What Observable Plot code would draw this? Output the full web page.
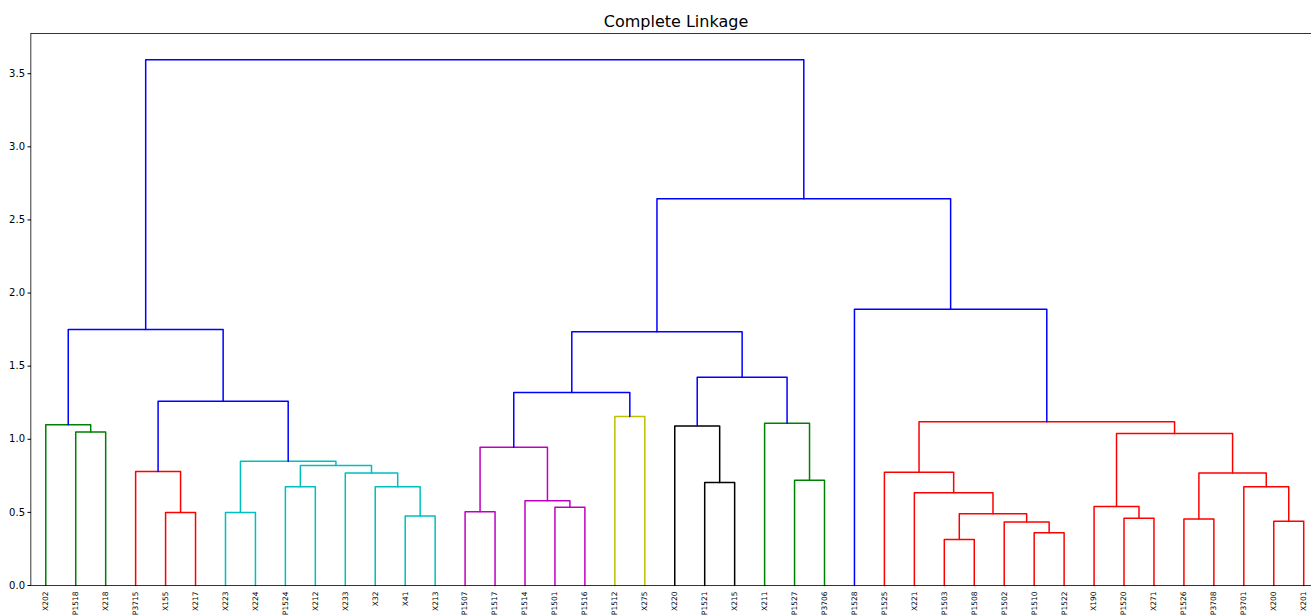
<!DOCTYPE html>
<html>
<head>
<meta charset="utf-8">
<script src="https://cdn.jsdelivr.net/npm/d3@7"></script>
<script src="https://cdn.jsdelivr.net/npm/@observablehq/plot@0.6"></script>
<style>
  html, body { margin: 0; padding: 0; background: #fff; }
  #wrap { position: relative; width: 1311px; height: 616px; overflow: hidden; font-family: "DejaVu Sans", sans-serif; }
  #title { position: absolute; left: 31px; width: 1290px; top: 12px; text-align: center; font-size: 16px; line-height: 20px; color: #000; }
</style>
</head>
<body>
<div id="wrap"><div id="title">Complete Linkage</div></div>
<script>
// Leaf labels, left to right
const leaves = ["X202","P1518","X218","P3715","X155","X217","X223","X224","P1524","X212",
  "X233","X32","X41","X213","P1507","P1517","P1514","P1501","P1516","P1512","X275",
  "X220","P1521","X215","X211","P1527","P3706","P1528","P1525","X221","P1503","P1508",
  "P1502","P1510","P1522","X190","P1520","X271","P1526","P3708","P3701","X200","X201"];

// Cluster colours (scipy / matplotlib cycle)
const palette = {g: "#008000", r: "#ff0000", c: "#00bfbf", m: "#bf00bf", y: "#bfbf00", k: "#000000", b: "#0000ff"};

// Merges: [id, left, right, height, colour]
const links = [
  ["g1","P1518","X218",1.05,"g"],
  ["g2","X202","g1",1.10,"g"],
  ["r1","X155","X217",0.50,"r"],
  ["r2","P3715","r1",0.78,"r"],
  ["c1","X223","X224",0.50,"c"],
  ["c2","P1524","X212",0.675,"c"],
  ["c3","X41","X213",0.475,"c"],
  ["c4","X32","c3",0.675,"c"],
  ["c5","X233","c4",0.77,"c"],
  ["c6","c2","c5",0.82,"c"],
  ["c7","c1","c6",0.85,"c"],
  ["b1","r2","c7",1.26,"b"],
  ["b2","g2","b1",1.75,"b"],
  ["m1","P1507","P1517",0.505,"m"],
  ["m2","P1501","P1516",0.535,"m"],
  ["m3","P1514","m2",0.58,"m"],
  ["m4","m1","m3",0.945,"m"],
  ["y1","P1512","X275",1.155,"y"],
  ["b3","m4","y1",1.32,"b"],
  ["k1","P1521","X215",0.705,"k"],
  ["k2","X220","k1",1.09,"k"],
  ["g3","P1527","P3706",0.72,"g"],
  ["g4","X211","g3",1.11,"g"],
  ["b4","k2","g4",1.425,"b"],
  ["b5","b3","b4",1.735,"b"],
  ["R1","P1503","P1508",0.315,"r"],
  ["R2","P1510","P1522",0.36,"r"],
  ["R3","P1502","R2",0.435,"r"],
  ["R4","R1","R3",0.49,"r"],
  ["R5","X221","R4",0.635,"r"],
  ["R6","P1525","R5",0.775,"r"],
  ["R7","P1520","X271",0.46,"r"],
  ["R8","X190","R7",0.54,"r"],
  ["R9","P1526","P3708",0.455,"r"],
  ["R10","X200","X201",0.44,"r"],
  ["R11","P3701","R10",0.675,"r"],
  ["R12","R9","R11",0.77,"r"],
  ["R13","R8","R12",1.04,"r"],
  ["R14","R6","R13",1.12,"r"],
  ["b6","P1528","R14",1.89,"b"],
  ["b7","b5","b6",2.645,"b"],
  ["b8","b2","b7",3.595,"b"]
];

const yTicks = [0, 0.5, 1.0, 1.5, 2.0, 2.5, 3.0, 3.5];
const yMax = 3.775;

// Build dendrogram U-shapes (scipy layout: leaves at 5, 15, 25, ...)
const leafPos = leaves.map((n, i) => 5 + 10 * i);
const pos = new Map(leaves.map((n, i) => [n, {x: leafPos[i], h: 0}]));
const segs = [];
for (const [id, a, b, h, c] of links) {
  const A = pos.get(a), B = pos.get(b);
  const col = palette[c];
  segs.push({id, x: A.x, y: A.h, c: col}, {id, x: A.x, y: h, c: col},
            {id, x: B.x, y: h, c: col}, {id, x: B.x, y: B.h, c: col});
  pos.set(id, {x: (A.x + B.x) / 2, h});
}

const chart = Plot.plot({
  width: 1311,
  height: 616,
  marginTop: 33,
  marginBottom: 31,
  marginLeft: 31,
  marginRight: 0,
  style: {fontFamily: "DejaVu Sans, sans-serif", background: "transparent", overflow: "hidden"},
  x: {domain: [0, 430], range: [30.3, 1318.2]},
  y: {domain: [0, yMax], range: [585, 33]},
  color: {type: "identity"},
  marks: [
    Plot.line(segs, {x: "x", y: "y", z: "id", stroke: "c", strokeWidth: 1.5, curve: "linear"}),
    Plot.ruleX([0], {stroke: "#000", strokeWidth: 0.8}),
    Plot.ruleY([0, yMax], {stroke: "#000", strokeWidth: 0.8}),
    Plot.axisY({ticks: yTicks, tickFormat: d3.format(".1f"), tickSize: 3.5, tickPadding: 3, fontSize: 10, label: null, stroke: "#000"}),
    Plot.axisX({ticks: leafPos, tickFormat: d => leaves[Math.round((d - 5) / 10)], tickRotate: -90, tickSize: 0, tickPadding: 6, fontSize: 7.5, label: null})
  ]
});
document.getElementById("wrap").appendChild(chart);
chart.style.position = "absolute";
chart.style.left = "0";
chart.style.top = "0";
</script>
</body>
</html>
